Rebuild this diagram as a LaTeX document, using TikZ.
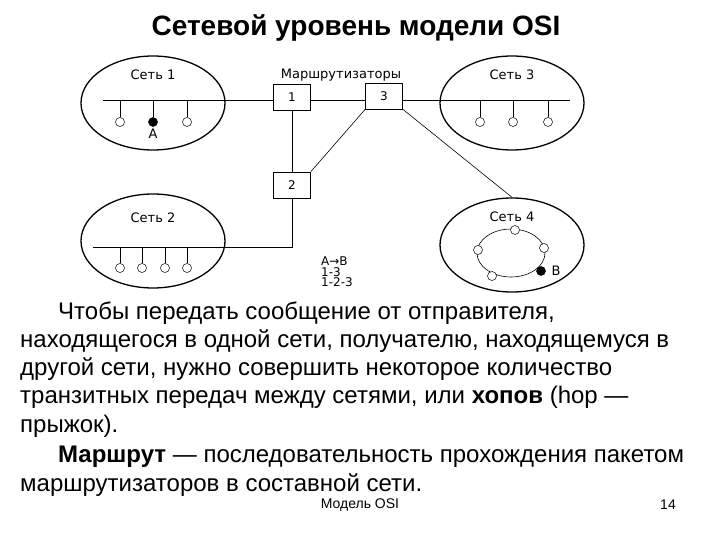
\documentclass[tikz,border=0pt]{standalone}
\usepackage{fontspec}
\usetikzlibrary{shapes.geometric}
\setmainfont{Liberation Sans}
\newfontfamily\dvs{DejaVu Sans}
\begin{document}
\begin{tikzpicture}[x=1pt,y=-1pt,
 net/.style={draw,line width=1.3pt,ellipse,minimum width=144pt,minimum height=94pt,inner sep=0pt},
 rt/.style={draw,line width=0.5pt,minimum width=37pt,minimum height=26pt,inner sep=0pt,font=\dvs\fontsize{12}{13}\selectfont},
 host/.style={draw,line width=0.5pt,circle,minimum size=9pt,inner sep=0pt,fill=white},
 hostb/.style={host,fill=black},
 lbl/.style={font=\dvs\fontsize{13}{14}\selectfont,inner sep=0pt},
 body/.style={anchor=base west,font=\fontsize{24}{28}\selectfont,inner sep=0pt},
 ln/.style={line width=0.6pt}]
\useasboundingbox (0,0) rectangle (720,540);
\node[font=\bfseries\fontsize{28}{32}\selectfont] (title) at (356,28) {Сетевой уровень модели OSI};
% networks
\node[net] (n1) at (153,103) {};
\node[net] (n3) at (512,103) {};
\node[net] (n2) at (153,241) {};
\node[net] (n4) at (512,245) {};
\node[lbl] (l1) at (153,75) {Сеть 1};
\node[lbl] (l3) at (512,75) {Сеть 3};
\node[lbl] (l2) at (153,218) {Сеть 2};
\node[lbl] (l4) at (512,217) {Сеть 4};
% routers
\node[rt] (r1) at (292,97) {1};
\node[rt] (r3) at (384,96) {3};
\node[rt] (r2) at (292,185) {2};
\node[lbl] (lr) at (341,75) {Маршрутизаторы};
% buses
\coordinate (b1) at (103,100);
\coordinate (b3) at (570,100);
\coordinate (b2) at (93,247);
\draw[ln] (b1) -- (r1.west |- b1);
\draw[ln] (r1.east |- b1) -- (r3.west |- b1);
\draw[ln] (r3.east |- b3) -- (b3);
\draw[ln] (r1) -- (r2);
\draw[ln] (r2.south) |- (b2);
\draw[ln] (r3.south west) -- (r2.north east);
\draw[ln] (r3.south east) -- (n4.north);
% hosts
\foreach \x/\s [count=\i] in {120/host,153/hostb,187/host}{
 \node[\s] (h1\i) at (\x,122) {};
 \draw[ln] (\x,100) -- (h1\i.north);}
\node[lbl] (la) at (153,134) {A};
\foreach \x [count=\i] in {480,513,548}{
 \node[host] (h3\i) at (\x,122) {};
 \draw[ln] (\x,100) -- (h3\i.north);}
\foreach \x [count=\i] in {120,142,165,187}{
 \node[host] (h2\i) at (\x,268) {};
 \draw[ln] (\x,247) -- (h2\i.north);}
% ring
\draw[ln] (511,253) ellipse (34pt and 24pt);
\node[host] (q1) at (515,230) {};
\node[host] (q2) at (478,250) {};
\node[host] (q3) at (544,248) {};
\node[host] (q4) at (492,276) {};
\node[hostb] (q5) at (541,271) {};
\node[lbl] (lb) at (556,271) {B};
% route text
\node[lbl,anchor=west,align=left,font=\dvs\fontsize{12}{10.5}\selectfont] (rtxt) at (321,272) {A→B\\1-3\\1-2-3};
% body
\node[body] (t1) at (58,319) {Чтобы передать сообщение от отправителя,};
\node[body] (t2) at (20,347) {находящегося в одной сети, получателю, находящемуся в};
\node[body] (t3) at (20,375) {другой сети, нужно совершить некоторое количество};
\node[body] (t4) at (20,403) {транзитных передач между сетями, или \textbf{хопов} (hop —};
\node[body] (t5) at (20,432) {прыжок).};
\node[body] (t6) at (58,462) {\textbf{Маршрут} — последовательность прохождения пакетом};
\node[body] (t7) at (20,491) {маршрутизаторов в составной сети.};
\node[font=\fontsize{14}{15}\selectfont] (f1) at (360,505) {Модель OSI};
\node[font=\fontsize{14}{15}\selectfont] (f2) at (668,505) {14};
\end{tikzpicture}
\end{document}
